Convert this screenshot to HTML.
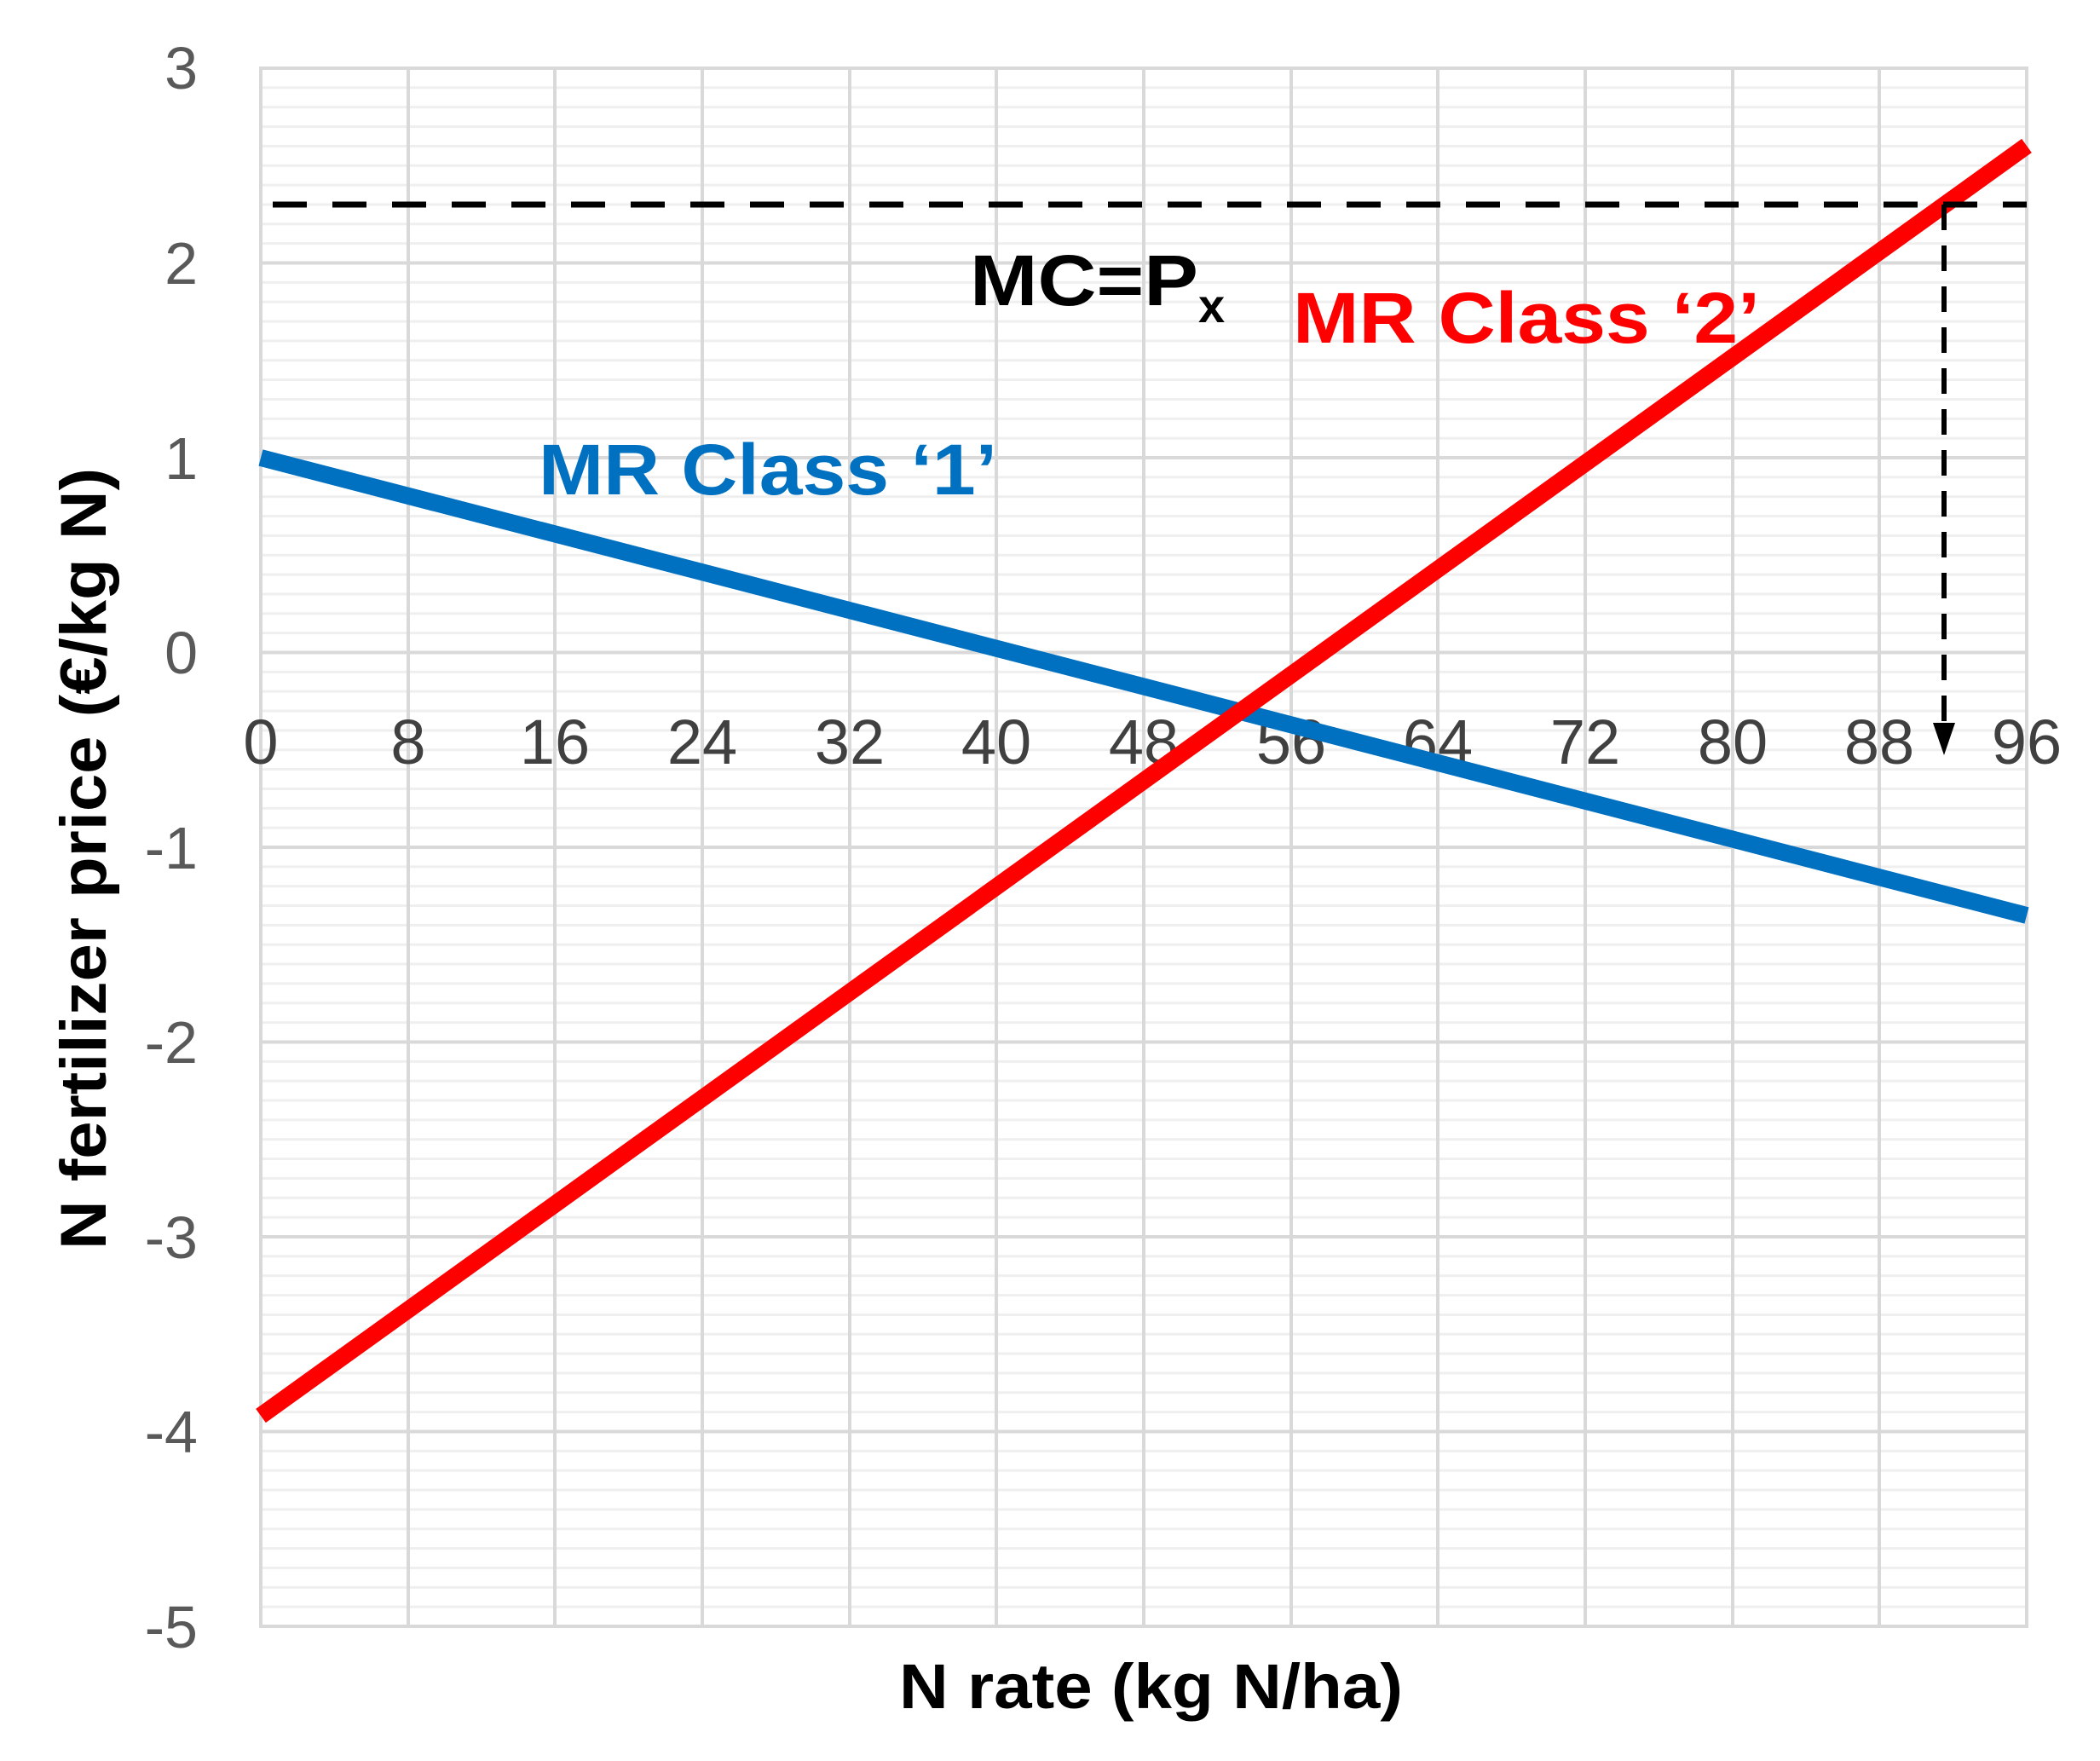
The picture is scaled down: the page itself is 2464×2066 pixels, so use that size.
<!DOCTYPE html>
<html><head><meta charset="utf-8"><style>html,body{margin:0;padding:0;background:#fff}svg{display:block}</style></head>
<body>
<svg width="2464" height="2066" viewBox="0 0 2464 2066" xmlns="http://www.w3.org/2000/svg">
<defs>
<pattern id="minor" patternUnits="userSpaceOnUse" x="306" y="80" width="2072" height="22.85">
<rect x="0" y="-1.5" width="2072" height="3" fill="#efefef"/>
<rect x="0" y="21.35" width="2072" height="3" fill="#efefef"/>
</pattern>
</defs>
<rect width="2464" height="2066" fill="#fff"/>
<rect x="306" y="80" width="2072" height="1828" fill="url(#minor)"/>
<g stroke="#d9d9d9" stroke-width="4">
<path d="M306 308.5H2378M306 537H2378M306 765.5H2378M306 994H2378M306 1222.5H2378M306 1451H2378M306 1679.5H2378"/>
<path d="M479 80V1908M651 80V1908M824 80V1908M997 80V1908M1169 80V1908M1342 80V1908M1515 80V1908M1687 80V1908M1860 80V1908M2033 80V1908M2205 80V1908"/>
<rect x="306" y="80" width="2072" height="1828" fill="none"/>
</g>
<g font-family="'Liberation Sans Narrow','Liberation Sans',sans-serif" font-size="70" fill="#595959" text-anchor="end">
<text x="232" y="104">3</text>
<text x="232" y="333">2</text>
<text x="232" y="562">1</text>
<text x="232" y="790">0</text>
<text x="232" y="1019">-1</text>
<text x="232" y="1247">-2</text>
<text x="232" y="1476">-3</text>
<text x="232" y="1704">-4</text>
<text x="232" y="1933">-5</text>
</g>
<g font-family="'Liberation Sans Narrow','Liberation Sans',sans-serif" font-size="74" fill="#404040" text-anchor="middle">
<text x="306" y="896">0</text>
<text x="479" y="896">8</text>
<text x="651" y="896">16</text>
<text x="824" y="896">24</text>
<text x="997" y="896">32</text>
<text x="1169" y="896">40</text>
<text x="1342" y="896">48</text>
<text x="1515" y="896">56</text>
<text x="1687" y="896">64</text>
<text x="1860" y="896">72</text>
<text x="2033" y="896">80</text>
<text x="2205" y="896">88</text>
<text x="2378" y="896">96</text>
</g>
<line x1="306" y1="537" x2="2378" y2="1074" stroke="#0070C0" stroke-width="20"/>
<line x1="306" y1="1661" x2="2378" y2="171" stroke="#FF0000" stroke-width="20"/>
<line x1="320" y1="240" x2="2378" y2="240" stroke="#000" stroke-width="7" stroke-dasharray="40 30"/>
<line x1="2281" y1="240" x2="2281" y2="848" stroke="#000" stroke-width="6" stroke-dasharray="30 18"/>
<polygon points="2268,848 2294,848 2281,886" fill="#000"/>
<g font-family="'Liberation Sans Narrow','Liberation Sans',sans-serif" font-weight="bold">
<text x="1138" y="358" font-size="84" fill="#000" textLength="268" lengthAdjust="spacingAndGlyphs">MC=P</text>
<text x="1406" y="378" font-size="56" fill="#000">x</text>
<text x="1517" y="402" font-size="84" fill="#FF0000" textLength="548" lengthAdjust="spacingAndGlyphs">MR Class ‘2’</text>
<text x="632" y="580" font-size="84" fill="#0070C0" textLength="538" lengthAdjust="spacingAndGlyphs">MR Class ‘1’</text>
<text x="1055" y="2004" font-size="74" fill="#000" textLength="591" lengthAdjust="spacingAndGlyphs">N rate (kg N/ha)</text>
<text transform="translate(124,1466) rotate(-90)" font-size="76" fill="#000" textLength="917" lengthAdjust="spacingAndGlyphs">N fertilizer price (€/kg N)</text>
</g>
</svg>
</body></html>
